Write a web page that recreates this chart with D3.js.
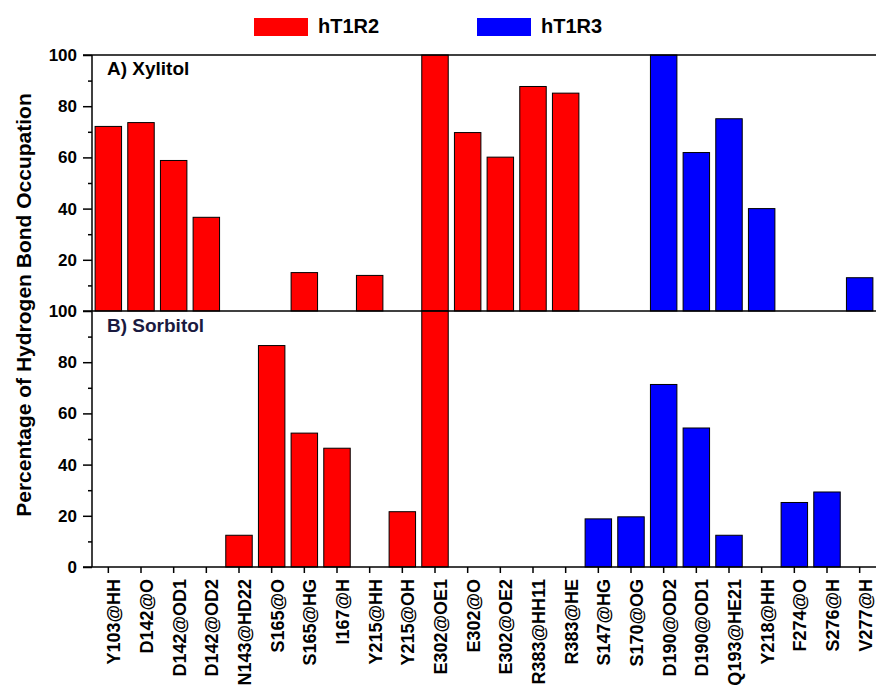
<!DOCTYPE html>
<html>
<head>
<meta charset="utf-8">
<script src="https://cdn.jsdelivr.net/npm/d3@7"></script>
<style>
  body { margin: 0; background: #fff; }
  svg text { font-family: Arial, "Liberation Sans", sans-serif; font-weight: bold; }
</style>
</head>
<body>
<div id="plot"></div>
<script>
// residues (x categories)
var residues = ["Y103@HH", "D142@O", "D142@OD1", "D142@OD2", "N143@HD22", "S165@O", "S165@HG",
  "I167@H", "Y215@HH", "Y215@OH", "E302@OE1", "E302@O", "E302@OE2", "R383@HH11", "R383@HE",
  "S147@HG", "S170@OG", "D190@OD2", "D190@OD1", "Q193@HE21", "Y218@HH", "F274@O", "S276@H", "V277@H"];
// which receptor each residue belongs to
var receptor = ["hT1R2", "hT1R2", "hT1R2", "hT1R2", "hT1R2", "hT1R2", "hT1R2", "hT1R2", "hT1R2",
  "hT1R2", "hT1R2", "hT1R2", "hT1R2", "hT1R2", "hT1R2",
  "hT1R3", "hT1R3", "hT1R3", "hT1R3", "hT1R3", "hT1R3", "hT1R3", "hT1R3", "hT1R3"];
// A) Xylitol occupation (%)
var xylitol = [72.1, 73.6, 58.8, 36.6, 0, 0, 15.0, 0, 13.9, 0, 100, 69.7, 60.1, 87.7, 85.1,
  0, 0, 100, 61.9, 75.1, 40.0, 0, 0, 13.0];
// B) Sorbitol occupation (%)
var sorbitol = [0, 0, 0, 0, 12.4, 86.5, 52.3, 46.4, 0, 21.6, 100, 0, 0, 0, 0,
  18.8, 19.6, 71.3, 54.3, 12.4, 0, 25.2, 29.3, 0];
var majorTicks = [0, 20, 40, 60, 80, 100];
var minorTicks = [10, 30, 50, 70, 90];
var legendKeys = ["hT1R2", "hT1R3"];

(function () {
  var W = 876, H = 690;
  var mLeft = 92, mRight = 876, yA = 55, yMid = 311, yB = 567;

  var color = d3.scaleOrdinal().domain(legendKeys).range(["#ff0000", "#0000ff"]);

  var svg = d3.select("#plot").append("svg")
    .attr("width", W).attr("height", H);

  var x = d3.scaleBand()
    .domain(residues)
    .range([mLeft, mRight])
    .paddingInner(0.19)
    .paddingOuter(0.095);

  var yTop = d3.scaleLinear().domain([0, 100]).range([yMid, yA]);
  var yBot = d3.scaleLinear().domain([0, 100]).range([yB, yMid]);

  // bars
  function addBars(values, y) {
    svg.append("g")
      .selectAll("rect")
      .data(values.map(function (v, i) { return { name: residues[i], rec: receptor[i], v: v }; })
        .filter(function (d) { return d.v > 0; }))
      .enter()
      .append("rect")
      .attr("x", function (d) { return x(d.name); })
      .attr("width", x.bandwidth())
      .attr("y", function (d) { return y(d.v); })
      .attr("height", function (d) { return y(0) - y(d.v); })
      .style("fill", function (d) { return color(d.rec); })
      .style("stroke", "#000")
      .style("stroke-width", 1);
  }
  addBars(xylitol, yTop);
  addBars(sorbitol, yBot);

  // y axes, major + minor
  function addYAxis(y, labels) {
    var g = svg.append("g").attr("transform", "translate(" + mLeft + ",0)");
    g.call(d3.axisLeft(y).tickValues(labels).tickSize(9).tickPadding(6).tickFormat(d3.format("d")));
    g.select(".domain").remove();
    g.selectAll("line").attr("stroke", "#000").attr("stroke-width", 1.5);
    g.selectAll("text").style("font-size", "17px").attr("fill", "#000");

    var m = svg.append("g").attr("transform", "translate(" + mLeft + ",0)");
    m.call(d3.axisLeft(y).tickValues(minorTicks).tickSize(4).tickFormat(""));
    m.select(".domain").remove();
    m.selectAll("line").attr("stroke", "#000").attr("stroke-width", 1.5);
  }
  addYAxis(yTop, majorTicks.filter(function (t) { return t > 0; }));
  addYAxis(yBot, majorTicks);

  // x axis
  var xa = svg.append("g").attr("transform", "translate(0," + yB + ")");
  xa.call(d3.axisBottom(x).tickSize(6).tickPadding(0));
  xa.select(".domain").remove();
  xa.selectAll("line").attr("stroke", "#000").attr("stroke-width", 1.5);
  xa.selectAll("text")
    .style("font-size", "18px")
    .attr("fill", "#000")
    .attr("text-anchor", "end")
    .attr("dy", null)
    .attr("transform", "translate(6,12) rotate(-90)");

  // frame lines
  var frame = svg.append("g").attr("stroke", "#000").attr("stroke-width", 1.5);
  [yA, yMid, yB].forEach(function (yy) {
    frame.append("line").attr("x1", mLeft - 9).attr("x2", mRight).attr("y1", yy).attr("y2", yy);
  });
  frame.append("line").attr("x1", mLeft).attr("x2", mLeft).attr("y1", yA).attr("y2", yB);

  // panel labels
  svg.append("text").attr("x", 107).attr("y", 75).style("font-size", "19px").text("A) Xylitol");
  svg.append("text").attr("x", 107).attr("y", 332).style("font-size", "19px").attr("fill", "#1a1a40").text("B) Sorbitol");

  // y title
  svg.append("text")
    .attr("transform", "translate(31,305) rotate(-90)")
    .attr("text-anchor", "middle")
    .style("font-size", "21px")
    .text("Percentage of Hydrogen Bond Occupation");

  // legend
  var legX = [254, 477];
  var leg = svg.append("g");
  legendKeys.forEach(function (k, i) {
    leg.append("rect").attr("x", legX[i]).attr("y", 18).attr("width", 54).attr("height", 18)
      .style("fill", color(k));
    leg.append("text").attr("x", legX[i] + 64).attr("y", 33).style("font-size", "20px").text(k);
  });
})();
</script>
</body>
</html>
